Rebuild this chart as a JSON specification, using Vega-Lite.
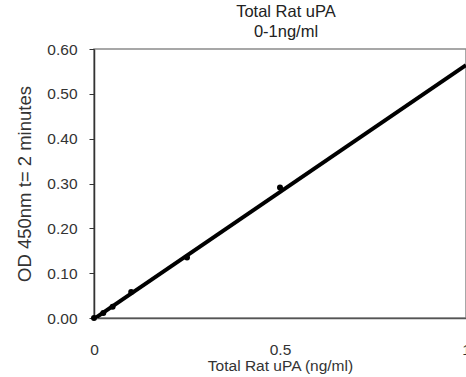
{
  "$schema": "https://vega.github.io/schema/vega-lite/v6.json",
  "width": 372,
  "height": 269,
  "autosize": {"type": "none"},
  "padding": {"left": 94, "top": 49, "right": 0, "bottom": 59},
  "background": "white",
  "config": {
    "font": "Liberation Sans",
    "view": {"stroke": "#8a8a8a", "strokeWidth": 1.5}
  },
  "title": {
    "text": ["Total Rat uPA", "0-1ng/ml"],
    "fontSize": 16.5,
    "fontWeight": "normal",
    "lineHeight": 20,
    "color": "#222",
    "anchor": "middle",
    "dx": 6,
    "offset": 2
  },
  "datasets": {
    "points": [
      {"conc": 0, "od": 0.0},
      {"conc": 0.025, "od": 0.011},
      {"conc": 0.05, "od": 0.025},
      {"conc": 0.1, "od": 0.058},
      {"conc": 0.25, "od": 0.135},
      {"conc": 0.5, "od": 0.291}
    ],
    "fit": [
      {"conc": 0, "od": -0.002},
      {"conc": 1, "od": 0.564}
    ]
  },
  "layer": [
    {
      "data": {"name": "fit"},
      "mark": {"type": "line", "color": "black", "strokeWidth": 4, "clip": true},
      "encoding": {
        "x": {"field": "conc", "type": "quantitative"},
        "y": {"field": "od", "type": "quantitative"}
      }
    },
    {
      "data": {"name": "points"},
      "mark": {"type": "point", "filled": true, "color": "black", "size": 36, "opacity": 1},
      "encoding": {
        "x": {
          "field": "conc",
          "type": "quantitative",
          "scale": {"domain": [0, 1], "nice": false, "zero": true},
          "axis": {
            "title": "Total Rat uPA (ng/ml)",
            "values": [0, 0.5, 1],
            "format": "~g",
            "grid": false,
            "ticks": false,
            "domainColor": "#555",
            "domainWidth": 1.5,
            "labelFontSize": 15.5,
            "labelColor": "#333",
            "labelPadding": 24,
            "labelFlush": false,
            "labelOverlap": false,
            "titleFontSize": 15.5,
            "titleFontWeight": "normal",
            "titleColor": "#333",
            "titlePadding": 1,
            "titleAnchor": "middle"
          }
        },
        "y": {
          "field": "od",
          "type": "quantitative",
          "scale": {"domain": [0, 0.6], "nice": false},
          "axis": {
            "title": "OD 450nm t= 2 minutes",
            "values": [0, 0.1, 0.2, 0.3, 0.4, 0.5, 0.6],
            "format": ".2f",
            "grid": false,
            "tickSize": 5,
            "tickColor": "#333",
            "domainColor": "#333",
            "domainWidth": 1.5,
            "labelFontSize": 15.5,
            "labelColor": "#333",
            "labelPadding": 12,
            "labelFlush": false,
            "titleFontSize": 18.5,
            "titleFontWeight": "normal",
            "titleColor": "#333",
            "titlePadding": 12
          }
        }
      }
    }
  ]
}
